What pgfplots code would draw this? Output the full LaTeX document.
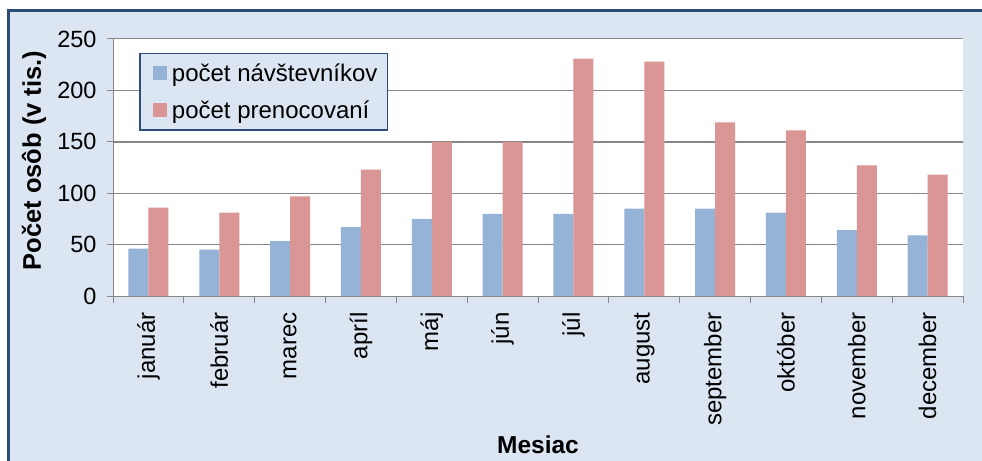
\documentclass[border=0pt]{standalone}
\usepackage{fontspec}
\setmainfont{Liberation Sans}
\usepackage{pgfplots}
\pgfplotsset{compat=1.18}
\definecolor{barblue}{HTML}{95B3D7}
\definecolor{barred}{HTML}{D99694}
\definecolor{bgblue}{HTML}{DCE6F2}
\definecolor{frameblue}{HTML}{2C4D7A}
\definecolor{gridgray}{HTML}{868686}
\begin{document}
\begin{tikzpicture}
\useasboundingbox (0,0) rectangle (982bp,461bp);
\fill[white] (0,0) rectangle (982bp,461bp);
\fill[bgblue] (9bp,0) rectangle (982bp,450bp);
\draw[frameblue, line width=3bp] (8.5bp,0) -- (8.5bp,450.5bp) -- (982bp,450.5bp);
\begin{axis}[
  at={(113bp,165bp)}, anchor=south west,
  scale only axis, width=850bp, height=257bp,
  xmin=-0.5, xmax=11.5, ymin=0, ymax=250,
  axis background/.style={fill=white},
  ybar=0pt, bar width=20bp,
  xtick={0,...,11},
  xticklabels={január,február,marec,apríl,máj,jún,júl,august,september,október,november,december},
  minor xtick={-0.5,0.5,...,11.5},
  major x tick style={draw=none},
  minor x tick style={gridgray, line width=1bp},
  minor tick length=7bp,
  major tick length=6bp,
  ytick={0,50,...,250},
  ymajorgrids,
  grid style={gridgray, line width=1bp},
  extra y ticks={150}, extra y tick labels={},
  extra y tick style={grid style={gridgray, line width=2bp}},
  axis x line*=bottom, axis y line*=left,
  axis line style={gridgray, line width=1bp, -},
  y tick style={gridgray, line width=1bp},
  tick align=outside,
  xticklabel style={rotate=90, anchor=east, font=\fontsize{24bp}{24bp}\selectfont},
  xticklabel shift=7bp,
  yticklabel style={font=\fontsize{23.5bp}{23.5bp}\selectfont},
  yticklabel shift=7bp,
  /pgf/number format/assume math mode=true,
  xlabel={Mesiac}, ylabel={Počet osôb (v tis.)},
  xlabel style={font=\bfseries\fontsize{24.5bp}{24.5bp}\selectfont, at={(axis description cs:0.5,-0.58)}, anchor=center},
  ylabel style={font=\bfseries\fontsize{25.5bp}{25.5bp}\selectfont, at={(axis description cs:-0.093,0.527)}, anchor=center},
  legend style={at={(0.031,0.945)}, anchor=north west, fill=bgblue, draw=frameblue,
    line width=1.2bp, font=\fontsize{24bp}{24bp}\selectfont,
    inner xsep=8bp, inner ysep=8bp, row sep=14bp},
  legend cell align=left,
  legend image code/.code={\path (-5bp,0); \fill[#1] (0bp,-7bp) rectangle (14bp,7bp); \path (17bp,0);},
]
\addplot[fill=barblue, draw=none] coordinates {(0,46) (1,45) (2,53.5) (3,67) (4,75) (5,80) (6,80) (7,85) (8,85) (9,81) (10,64) (11,59)};
\addplot[fill=barred, draw=none] coordinates {(0,86) (1,81) (2,97) (3,123) (4,150) (5,150) (6,231) (7,228) (8,169) (9,161) (10,127) (11,118)};
\legend{počet návštevníkov, počet prenocovaní}
\end{axis}
\end{tikzpicture}
\end{document}
